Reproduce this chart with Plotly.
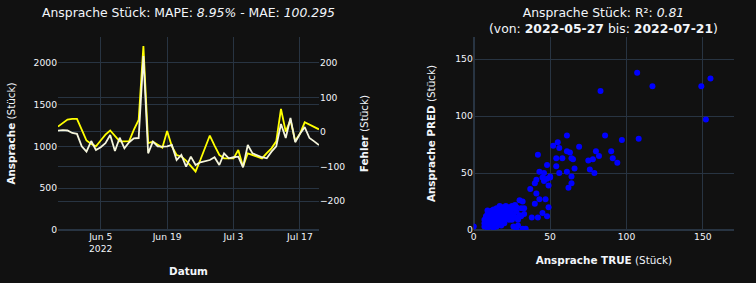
import pandas as pd
import plotly.graph_objects as go

dates = pd.date_range("2022-05-27", "2022-07-21", freq="D")

pred_values = [1236, 1280, 1320, 1330, 1330, 1200, 1070, 1030, 1000, 1070,
               1140, 1190, 1120, 1060, 1060, 1064, 1200, 1316, 2200, 1040,
               1056, 1020, 985, 1184, 1000, 897, 877, 830, 770, 700,
               837, 980, 1130, 1010, 897, 857, 857, 857, 957, 757,
               917, 900, 880, 857, 920, 977, 1060, 1447, 1176, 1316,
               1064, 1150, 1288, 1260, 1230, 1204]

true_values = [1188, 1195, 1190, 1160, 1150, 1000, 937, 1064, 957, 990,
               1037, 1136, 945, 1104, 977, 1050, 1097, 1100, 2080, 917,
               1056, 1000, 996, 1000, 1017, 837, 897, 757, 877, 777,
               810, 820, 837, 870, 777, 917, 857, 870, 877, 750,
               1017, 917, 890, 870, 857, 937, 1000, 1268, 1100, 1340,
               1050, 1150, 1230, 1100, 1060, 1017]

scatter_true = [0, 7, 7, 7, 8, 8, 8, 9, 9, 9, 9, 10, 10, 10, 10, 11, 11, 11, 11,
                12, 12, 12, 12, 12, 13, 13, 13, 13, 13, 14, 14, 14, 14, 15, 15, 15,
                15, 15, 16, 16, 16, 17, 17, 17, 17, 18, 18, 18, 18, 19, 19, 19, 20,
                20, 20, 21, 21, 21, 22, 22, 23, 23, 23, 24, 24, 25, 25, 26, 26, 26,
                27, 27, 28, 28, 28, 29, 29, 30, 30, 31, 31, 32, 32, 33, 33, 34,
                37, 38, 40, 40, 41, 41, 42, 42, 43, 43, 45, 45, 46, 46, 47, 48, 48,
                48, 49, 49, 50, 50, 52, 54, 54, 55, 56, 56, 58, 61, 61, 62, 63, 64,
                64, 64, 65, 66, 69, 75, 76, 78, 79, 80, 82, 83, 86, 90, 91, 94, 97,
                107, 108, 117, 61, 149, 152, 155]
scatter_pred = [3, 3, 6, 9, 4, 10, 12, 2, 6, 14, 17, 4, 8, 11, 13, 3, 6, 9, 15,
                5, 7, 10, 12, 17, 2, 6, 9, 14, 18, 4, 8, 11, 15, 3, 6, 10,
                13, 19, 7, 12, 16, 5, 9, 14, 21, 4, 11, 16, 19, 8, 13, 20, 6,
                12, 17, 10, 15, 21, 13, 18, 9, 15, 20, 12, 17, 9, 21, 3, 14, 19,
                11, 22, 1, 16, 20, 9, 4, 13, 26, 12, 19, 1, 25, 19, 14, 1,
                36, 11, 23, 41, 32, 44, 11, 66, 27, 51, 15, 46, 50, 43, 27, 12, 45,
                57, 20, 39, 46, 47, 74, 56, 63, 77, 72, 50, 63, 51, 69, 37, 68, 63,
                41, 47, 62, 54, 73, 61, 53, 62, 50, 69, 65, 122, 83, 69, 63, 59, 79,
                138, 80, 126, 83, 126, 97, 133]

FONT = "DejaVu Sans"
TXT = "#f2f5fa"
GRID = "#283442"
BG = "#111111"

fig = go.Figure()
fig.add_trace(go.Scatter(x=dates, y=pred_values, mode="lines",
                         line=dict(color="#ffff00", width=1.8), xaxis="x", yaxis="y",
                         name="PRED"))
fig.add_trace(go.Scatter(x=dates, y=true_values, mode="lines",
                         line=dict(color="#f5f5dc", width=1.8), xaxis="x", yaxis="y",
                         name="TRUE"))
fig.add_trace(go.Scatter(x=[dates[0]], y=[None], mode="lines", xaxis="x", yaxis="y2",
                         showlegend=False, name="Fehler"))
fig.add_trace(go.Scatter(x=scatter_true, y=scatter_pred, mode="markers",
                         marker=dict(color="#0000ff", size=6), xaxis="x2", yaxis="y3",
                         name="Scatter"))

tickfont = dict(family=FONT, size=9.2, color=TXT)
titlefont = dict(family=FONT, size=10.4, color=TXT)

fig.update_layout(
    width=756, height=283,
    paper_bgcolor=BG, plot_bgcolor=BG,
    showlegend=False,
    margin=dict(l=58, r=22, t=37, b=53),
    font=dict(family=FONT, color=TXT, size=10),
    xaxis=dict(domain=[0, 0.386], anchor="y", type="date", automargin=False,
               range=[dates[0], dates[-1]], dtick=14 * 24 * 3600 * 1000,
               tick0="2022-06-05", tickformat="%b %-d\n%Y",
               gridcolor=GRID, zeroline=False, showline=False,
               tickfont=tickfont,
               title=dict(text="<b>Datum</b>", font=titlefont, standoff=14)),
    yaxis=dict(domain=[0, 1], anchor="x", range=[0, 2308], dtick=500, automargin=False,
               gridcolor=GRID, zeroline=True, zerolinecolor=GRID, zerolinewidth=2,
               tickfont=tickfont,
               title=dict(text="<b>Ansprache</b> (Stück)", font=titlefont, standoff=15)),
    yaxis2=dict(overlaying="y", side="right", anchor="x", range=[-284, 275], automargin=False,
                dtick=100, tick0=0, gridcolor=GRID, zeroline=False,
                tickfont=tickfont,
                title=dict(text="<b>Fehler</b> (Stück)", font=titlefont, standoff=16)),
    xaxis2=dict(domain=[0.615, 1], anchor="y3", range=[0, 170.4], dtick=50, automargin=False,
                gridcolor=GRID, zeroline=True, zerolinecolor=GRID, zerolinewidth=2,
                tickfont=tickfont,
                title=dict(text="<b>Ansprache TRUE</b> (Stück)", font=titlefont, standoff=15)),
    yaxis3=dict(domain=[0, 1], anchor="x2", range=[0, 169.3], dtick=50, automargin=False,
                gridcolor=GRID, zeroline=True, zerolinecolor=GRID, zerolinewidth=2,
                tickfont=tickfont,
                title=dict(text="<b>Ansprache PRED</b> (Stück)", font=titlefont, standoff=17)),
    annotations=[
        dict(text="Ansprache Stück: MAPE: <i>8.95%</i> - MAE: <i>100.295</i>",
             xref="paper", yref="paper", x=0.193, y=1.129, showarrow=False,
             xanchor="center", yanchor="middle",
             font=dict(family=FONT, size=12.4, color=TXT)),
        dict(text="Ansprache Stück: R²: <i>0.81</i><br>(von: <b>2022-05-27</b> bis: <b>2022-07-21</b>)",
             xref="paper", yref="paper", x=0.8075, y=1.083, showarrow=False,
             xanchor="center", yanchor="middle",
             font=dict(family=FONT, size=12.4, color=TXT)),
    ],
)

fig.write_html("out.html")
